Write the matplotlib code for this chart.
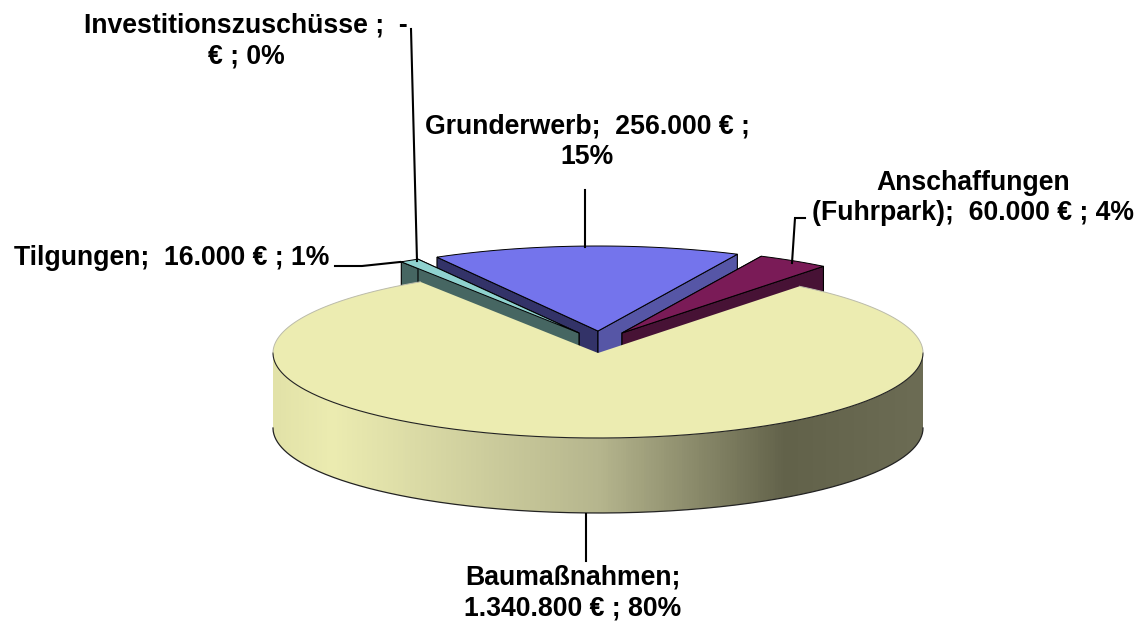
import numpy as np
import matplotlib
matplotlib.use("Agg")
import matplotlib.pyplot as plt
from matplotlib.patches import Polygon
from matplotlib.colors import LinearSegmentedColormap

plt.rcParams['font.family'] = ['Liberation Sans', 'DejaVu Sans']

# values in the order the slices run clockwise
names = ["Grunderwerb", "Anschaffungen", "Baumaßnahmen", "Tilgungen", "Investitionszuschüsse"]
values = [256000, 60000, 1340800, 16000, 0]
labels = ["Grunderwerb;  256.000 € ;\n15%",
          "Anschaffungen\n(Fuhrpark);  60.000 € ; 4%",
          "Baumaßnahmen;\n1.340.800 € ; 80%",
          "Tilgungen;  16.000 € ; 1%",
          "Investitionszuschüsse ;  -\n€ ; 0%"]

top_cols = ["#7474EC", "#7A1B57", "#ECECB1", "#8FD2CF"]
left_cols = ["#333368", "#471235", "#ECECB1", "#466662"]
right_cols = ["#5656A6", "#471235", "#ECECB1", "#466662"]

# pie geometry in pixels
cx, cy = 598, 353
rx, ry = 325, 85
depth = 75
start = 119.7
offsets = [(0, -22), (24, -20), (0, 0), (-19, -20)]

fig = plt.figure(figsize=(11.42, 6.24), dpi=100)
ax = fig.add_axes([0, 0, 1, 1])

total = sum(values)
sweeps = [v / total * 360 for v in values]
edges = start - np.cumsum([0] + sweeps)


def pt(t, ox=0, oy=0):
    t = np.radians(t)
    return cx + ox + rx * np.cos(t), cy + oy - ry * np.sin(t)


def top_face(i):
    ox, oy = offsets[i]
    ts = np.linspace(edges[i], edges[i + 1], 400)
    xs, ys = pt(ts, ox, oy)
    return np.column_stack([np.r_[cx + ox, xs], np.r_[cy + oy, ys]])


def cut_face(i, t):
    ox, oy = offsets[i]
    x, y = pt(t, ox, oy)
    return [(cx + ox, cy + oy), (x, y), (x, y + depth), (cx + ox, cy + oy + depth)]


# exploded slices behind the big one
for i in [0, 1, 3]:
    ax.add_patch(Polygon(cut_face(i, edges[i]), fc=left_cols[i], ec="black", lw=0.8, zorder=2 + i))
    ax.add_patch(Polygon(cut_face(i, edges[i + 1]), fc=right_cols[i], ec="black", lw=0.8, zorder=2 + i))
    ax.add_patch(Polygon(top_face(i), fc=top_cols[i], ec="black", lw=0.7, zorder=2.5 + i))

# big slice, side with gradient
ts = np.linspace(0, -180, 300)
xs, ys = pt(ts)
side = Polygon(np.column_stack([np.r_[xs, xs[::-1]], np.r_[ys, ys[::-1] + depth]]),
               fc="none", ec="none", zorder=11)
ax.add_patch(side)
stops = [(0.0, "#E2E2A8"), (0.09, "#ECECB1"), (0.5, "#B6B68E"), (0.79, "#62624A"), (1.0, "#6C6C54")]
cmap = LinearSegmentedColormap.from_list("side", stops)
im = ax.imshow(np.linspace(0, 1, 650)[None, :], cmap=cmap, aspect="auto",
               extent=(cx - rx, cx + rx, cy + ry + depth, cy), zorder=10)
im.set_clip_path(side)

ax.add_patch(Polygon(top_face(2), fc=top_cols[2], ec="none", zorder=12))
ax.plot(*pt(np.linspace(0, -180, 300)), color="#222222", lw=0.8, zorder=13)
bx, by = pt(np.linspace(0, -180, 300))
ax.plot(bx, by + depth, color="#222222", lw=0.9, zorder=13)
ax.plot(*pt(np.linspace(0, edges[2], 60)), color="#BBBBAA", lw=0.7, zorder=13)
ax.plot(*pt(np.linspace(-180, edges[3], 60)), color="#BBBBAA", lw=0.7, zorder=13)

# leader lines
leaders = [[(585, 190), (585, 247)],
           [(805, 218), (795, 218), (792, 263)],
           [(586, 514), (586, 561)],
           [(335, 266), (362, 266), (400, 262)],
           [(411, 29), (417, 261)]]
for pts in leaders:
    ax.plot(*zip(*pts), color="black", lw=1.5, zorder=20, solid_joinstyle="miter")

# labels
label_pos = [(587, 142), (973, 198), (573, 593), (172, 258), (246, 41)]
for txt, (x, y) in zip(labels, label_pos):
    ax.text(x, y, txt, ha="center", va="center", fontsize=19.2, fontweight="bold",
            linespacing=1.22, zorder=21)

ax.set_xlim(0, 1142)
ax.set_ylim(624, 0)
ax.axis("off")
fig.savefig("out.png", dpi=100)
